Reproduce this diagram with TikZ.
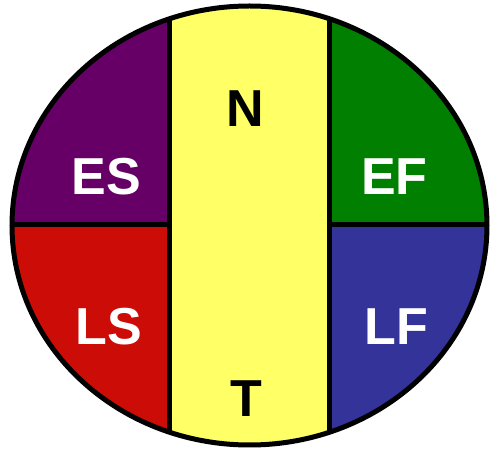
\documentclass[tikz,border=0pt]{standalone}
\usepackage{fontspec}
\setmainfont{Liberation Sans}
\usepackage{xcolor}
\usepackage{tikz}
\usetikzlibrary{positioning}

\definecolor{esPurple}{HTML}{660066}
\definecolor{lsRed}{HTML}{CC0C06}
\definecolor{ntYellow}{HTML}{FFFF66}
\definecolor{efGreen}{HTML}{007F00}
\definecolor{lfBlue}{HTML}{333399}

\begin{document}
\begin{tikzpicture}[x=1pt, y=-1pt,
  lbl/.style={font=\fontsize{52}{52}\selectfont\bfseries, text=white, anchor=base, inner sep=0pt},
  dlbl/.style={lbl, text=black},
  edge/.style={draw=black, line width=5pt}
]
\useasboundingbox (0,0) rectangle (491,449);
\begin{scope}
  \clip (249.5,225.5) ellipse [x radius=237.5, y radius=219.5];
  \fill[esPurple] (0,0) rectangle (169,225);
  \fill[lsRed] (0,225) rectangle (169,449);
  \fill[ntYellow] (169,0) rectangle (329.5,449);
  \fill[efGreen] (329.5,0) rectangle (491,225);
  \fill[lfBlue] (329.5,225) rectangle (491,449);
  \draw[edge] (169,0) -- (169,449);
  \draw[edge] (329.5,0) -- (329.5,449);
  \draw[edge] (0,225) -- (169,225);
  \draw[edge] (329.5,225) -- (491,225);
\end{scope}
\draw[edge] (249.5,225.5) ellipse [x radius=237.5, y radius=219.5];
\node[lbl] (es) at (106,195) {ES};
\node[lbl] (ls) at (108.5,345) {LS};
\node[lbl] (ef) at (394.5,195) {EF};
\node[lbl] (lf) at (396,345) {LF};
\node[dlbl] (n) at (245,127) {N};
\node[dlbl] (t) at (246,417) {T};
\end{tikzpicture}
\end{document}
